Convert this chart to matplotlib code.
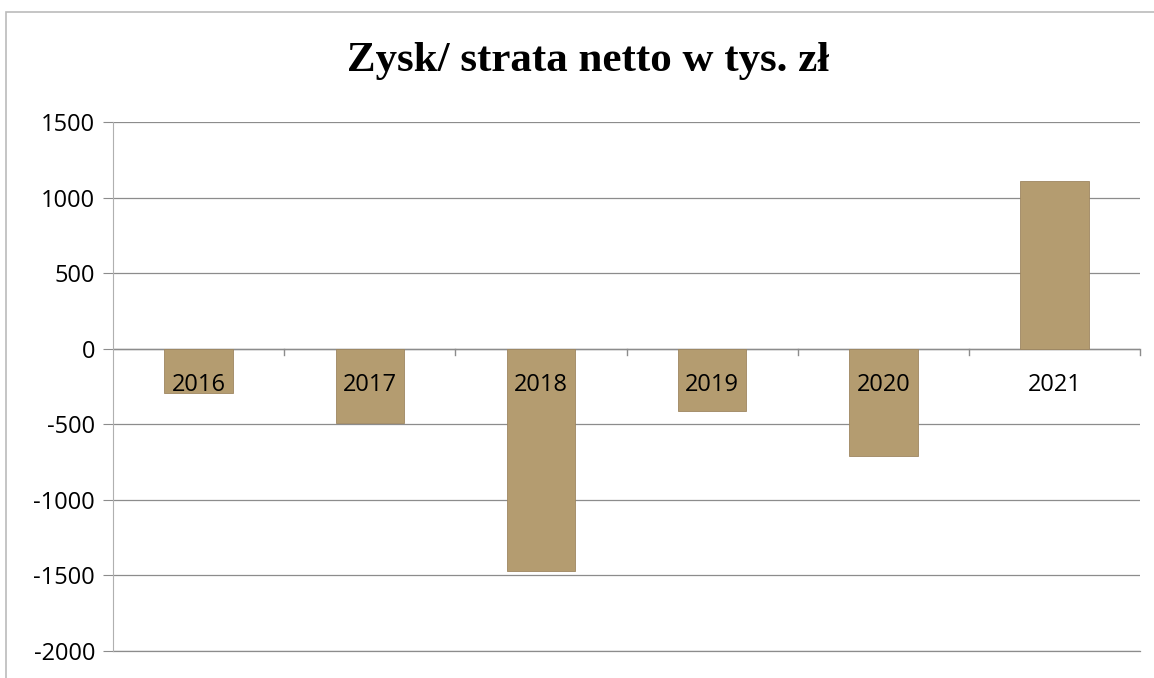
import matplotlib.pyplot as plt
from matplotlib.patches import Rectangle

# Zysk/strata netto (tys. zł)
years = ['2016', '2017', '2018', '2019', '2020', '2021']
values = [-290, -490, -1470, -410, -710, 1110]
yticks = [-2000, -1500, -1000, -500, 0, 500, 1000, 1500]

bar_color = '#B49C70'
grid_color = '#8c8c8c'

fig = plt.figure(figsize=(11.54, 6.78), dpi=100)
ax = fig.add_axes([0.098, 0.040, 0.890, 0.780])

x = range(len(years))
ax.bar(x, values, width=0.4, color=bar_color, edgecolor='#9e8660', linewidth=0.6, zorder=2)

ax.set_xlim(-0.5, len(years) - 0.5)
ax.set_ylim(-2000, 1500)
ax.set_yticks(yticks)
ax.set_yticklabels([str(v) for v in yticks], fontsize=17, family='Open Sans')
ax.yaxis.grid(True, color=grid_color, linewidth=0.9, zorder=0)
ax.axhline(-2000, color=grid_color, linewidth=0.9, zorder=0, clip_on=False)
ax.tick_params(axis='y', length=7, color=grid_color, pad=6)

# category labels sit just under the zero line
ax.set_xticks([])
for i, yr in enumerate(years):
    ax.text(i, -240, yr, ha='center', va='center', fontsize=17, family='Open Sans', zorder=3)

# small category separator ticks on the zero line
ax.axhline(0, color=grid_color, linewidth=1.0, zorder=1)
for i in range(len(years)):
    ax.plot([i + 0.5, i + 0.5], [0, -45], color=grid_color, linewidth=1.0, zorder=1, clip_on=False)

for s in ['top', 'right', 'bottom']:
    ax.spines[s].set_visible(False)
ax.spines['left'].set_color('#b0b0b0')

fig.text(0.51, 0.91, 'Zysk/ strata netto w tys. zł', ha='center', va='center',
         fontsize=31, fontweight='bold', family='Liberation Serif')

# faint frame of the chart area
fig.patches.append(Rectangle((0.005, -0.01), 1.0, 0.993, transform=fig.transFigure,
                             fill=False, edgecolor='#bbbbbb', linewidth=1.2))

fig.savefig('out.png', dpi=100)
